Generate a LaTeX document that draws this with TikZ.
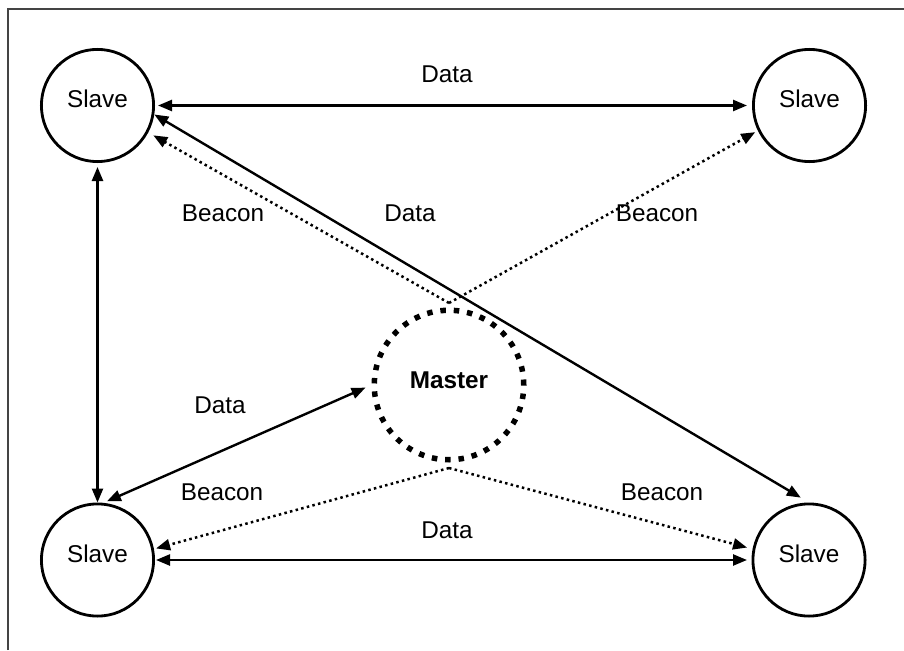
\documentclass[tikz,border=0pt]{standalone}
\usepackage{fontspec}
\setmainfont{Liberation Sans}
\usetikzlibrary{arrows.meta}
\definecolor{framegray}{RGB}{68,68,68}
\begin{document}
\begin{tikzpicture}[x=1pt,y=-1pt,
  txt/.style={font=\fontsize{24.3}{29}\selectfont},
  slave/.style={circle,draw,line width=2.8pt,minimum size=112.2pt,inner sep=0pt,text height=17pt,text depth=12pt,txt},
  master/.style={circle,draw,line width=5.5pt,dash pattern=on 5.5pt off 7.9pt,minimum size=149.5pt,inner sep=0pt,text height=17pt,text depth=10pt,font=\fontsize{24.3}{29}\selectfont\bfseries},
  lbl/.style={inner sep=0pt,txt},
  data/.style={line width=2.4pt,{Triangle[length=14pt,width=11pt]}-{Triangle[length=14pt,width=11pt]}},
  beacon/.style={line width=2.5pt,dash pattern=on 2.5pt off 3.3pt,-{Triangle[length=14pt,width=11pt]}},
]
\useasboundingbox (0,0) rectangle (904,650);
\draw[line width=1.7pt,framegray] (8,650) -- (8,9) -- (904,9);

\node[slave] (tl) at (97.5,105.5) {Slave};
\node[slave] (tr) at (809.5,105.5) {Slave};
\node[slave] (bl) at (97.5,560) {Slave};
\node[slave] (br) at (809,560) {Slave};
\node[master] (m) at (449,385) {Master};

\coordinate (mt) at ([yshift=4.5pt]m.north);
\coordinate (mb) at ([yshift=-5.5pt]m.south);

% Data links
\draw[data,shorten <=3pt,shorten >=5pt] (tl.east) -- (tr.west);
\draw[data,shorten <=4pt] (tl.south) -- (bl.north);
\draw[data,shorten >=9.5pt] (tl.-9.4) -- (br.north);
\draw[data,shorten <=3.7pt,shorten >=6.5pt] (bl.84.8) -- (m.west);
\draw[data,shorten <=1pt,shorten >=4.5pt] (bl.east) -- (br.west);

% Beacons
\draw[beacon,shorten >=5.8pt] (mt) -- (tl.-28.8);
\draw[beacon,shorten >=3pt] (mt) -- (tr.-154.1);
\draw[beacon,shorten >=2.2pt] (mb) -- (bl.11.6);
\draw[beacon,shorten >=5.7pt] (mb) -- (br.169);

% Labels
\node[lbl] (l1) at (447,74) {Data};
\node[lbl] (l2) at (223,213) {Beacon};
\node[lbl] (l3) at (410,213) {Data};
\node[lbl] (l4) at (657,213) {Beacon};
\node[lbl] (l5) at (220,405) {Data};
\node[lbl] (l6) at (222,492) {Beacon};
\node[lbl] (l7) at (662,492) {Beacon};
\node[lbl] (l8) at (447,530) {Data};
\end{tikzpicture}
\end{document}
